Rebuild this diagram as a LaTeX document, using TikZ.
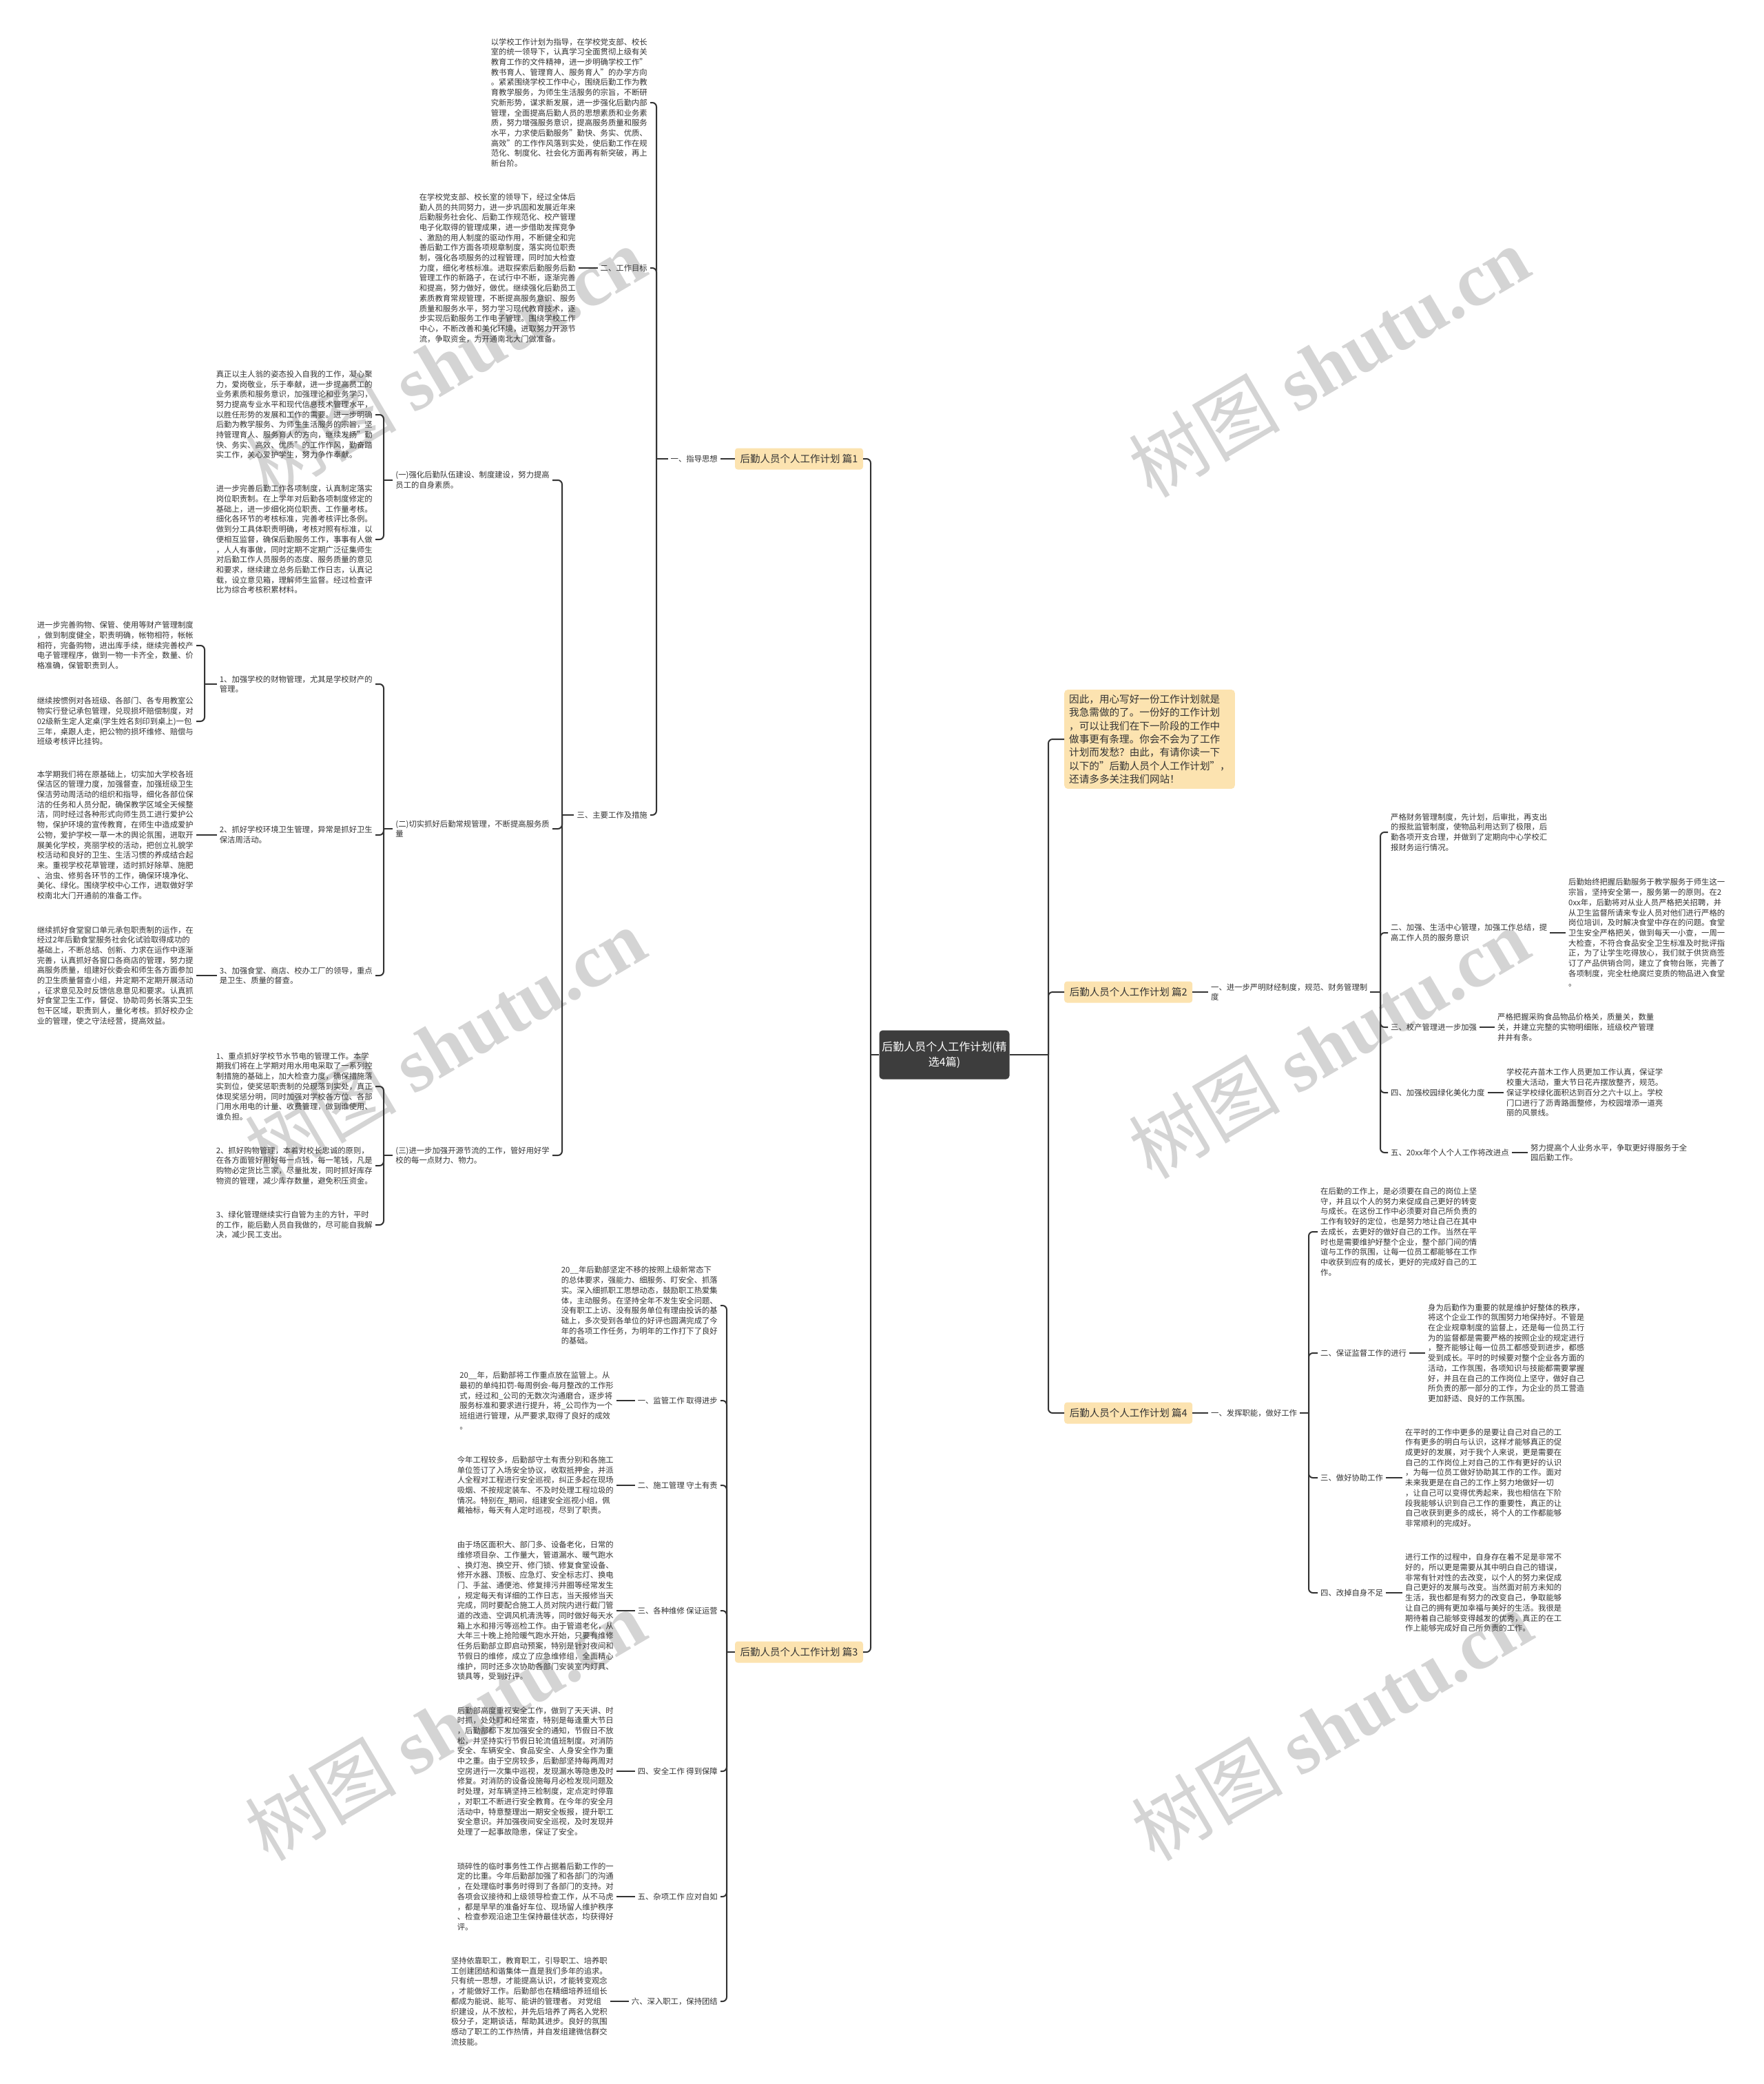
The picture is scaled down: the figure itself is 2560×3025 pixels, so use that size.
\documentclass[tikz,border=0pt]{standalone}
\usepackage{fontspec}
\setmainfont{Noto Sans CJK SC}
\newfontfamily\wmserif{Liberation Serif}

\definecolor{ink}{HTML}{333333}
\definecolor{paper}{HTML}{FCE3B0}
\definecolor{rootfill}{HTML}{3D3D3D}
\definecolor{wmgray}{HTML}{D4D4D4}

\begin{document}
\begin{tikzpicture}[
    x=1pt, y=-1pt,
    txt/.style={
        inner xsep=4pt,
        inner ysep=2pt,
        align=left,
        text=ink,
        font=\fontsize{11.35}{14.7}\selectfont
    },
    ltxt/.style={txt, anchor=east},
    rtxt/.style={txt, anchor=west},
    pian/.style={
        fill=paper,
        rounded corners=4pt,
        minimum width=186pt,
        minimum height=31pt,
        inner sep=0pt,
        text=ink,
        font=\fontsize{14.5}{17}\selectfont
    },
    hub/.style={
        fill=rootfill,
        rounded corners=5pt,
        minimum width=189pt,
        minimum height=71pt,
        align=center,
        text=white,
        font=\fontsize{16}{22}\selectfont
    },
    intro/.style={
        fill=paper,
        rounded corners=5pt,
        anchor=west,
        align=left,
        minimum width=240pt,
        inner xsep=7pt,
        inner ysep=7pt,
        text=ink,
        font=\fontsize{14.6}{19.4}\selectfont
    },
    link/.style={draw=ink, line width=2pt, rounded corners=6pt},
    wmark/.style={
        text=wmgray,
        rotate=30.5,
        inner sep=0pt,
        font=\fontsize{110}{120}\selectfont
    }
]

\useasboundingbox (0,0) rectangle (2560,3025);
\fill[white] (0,0) rectangle (2560,3025);

% --------------------------------------------------
% Watermarks
% --------------------------------------------------

\foreach \wx/\wy in {646/525,1929/525,646/1514,1929/1514,646/2504,1933/2504}
{
    \node[wmark] (wm-\wx-\wy) at (\wx,\wy) {树图 {\wmserif\bfseries shutu.cn}};
}

% --------------------------------------------------
% Root and first level
% --------------------------------------------------

\node[hub] (root) at (1371,1531)
    {后勤人员个人工作计划(精\\选4篇)};

\coordinate (bL) at (1264,1531);
\coordinate (bR) at (1522,1531);

\node[pian] (p1) at (1160,666)
    {后勤人员个人工作计划 篇1};

\node[pian] (p3) at (1160,2398)
    {后勤人员个人工作计划 篇3};

\node[intro] (intro) at (1545,1073)
    {因此，用心写好一份工作计划就是\\
     我急需做的了。一份好的工作计划\\
     ，可以让我们在下一阶段的工作中\\
     做事更有条理。你会不会为了工作\\
     计划而发愁？由此，有请你读一下\\
     以下的"后勤人员个人工作计划"，\\
     还请多多关注我们网站！};

\node[pian, anchor=west] (p2) at (1545,1440)
    {后勤人员个人工作计划 篇2};

\node[pian, anchor=west] (p4) at (1545,2051)
    {后勤人员个人工作计划 篇4};

% --------------------------------------------------
% 篇1
% --------------------------------------------------

\node[ltxt] (zd) at (1046,666) {一、指导思想};
\coordinate (bzd) at (953,666);

\node[ltxt] (ga) at (944,149)
    {以学校工作计划为指导，在学校党支部、校长\\
     室的统一领导下，认真学习全面贯彻上级有关\\
     教育工作的文件精神，进一步明确学校工作"\\
     教书育人、管理育人、服务育人"的办学方向\\
     。紧紧围绕学校工作中心，围绕后勤工作为教\\
     育教学服务，为师生生活服务的宗旨，不断研\\
     究新形势，谋求新发展，进一步强化后勤内部\\
     管理，全面提高后勤人员的思想素质和业务素\\
     质，努力增强服务意识，提高服务质量和服务\\
     水平，力求使后勤服务"勤快、务实、优质、\\
     高效"的工作作风落到实处，使后勤工作在规\\
     范化、制度化、社会化方面再有新突破，再上\\
     新台阶。};

\node[ltxt] (gm) at (944,389) {二、工作目标};

\node[ltxt] (gb) at (840,389)
    {在学校党支部、校长室的领导下，经过全体后\\
     勤人员的共同努力，进一步巩固和发展近年来\\
     后勤服务社会化、后勤工作规范化、校产管理\\
     电子化取得的管理成果，进一步借助发挥竞争\\
     、激励的用人制度的驱动作用，不断健全和完\\
     善后勤工作方面各项规章制度，落实岗位职责\\
     制，强化各项服务的过程管理，同时加大检查\\
     力度，细化考核标准。进取探索后勤服务后勤\\
     管理工作的新路子，在试行中不断，逐渐完善\\
     和提高，努力做好，做优。继续强化后勤员工\\
     素质教育常规管理，不断提高服务意识、服务\\
     质量和服务水平，努力学习现代教育技术，逐\\
     步实现后勤服务工作电子管理。围绕学校工作\\
     中心，不断改善和美化环境，进取努力开源节\\
     流，争取资金，为开通南北大门做准备。};

\node[ltxt] (zy) at (944,1183) {三、主要工作及措施};
\coordinate (bzy) at (816,1183);

\node[ltxt] (y1) at (802,697)
    {(一)强化后勤队伍建设、制度建设，努力提高\\
     员工的自身素质。};
\coordinate (by1) at (557,697);

\node[ltxt] (c1) at (545,602)
    {真正以主人翁的姿态投入自我的工作，凝心聚\\
     力，爱岗敬业，乐于奉献，进一步提高员工的\\
     业务素质和服务意识，加强理论和业务学习，\\
     努力提高专业水平和现代信息技术管理水平，\\
     以胜任形势的发展和工作的需要。进一步明确\\
     后勤为教学服务、为师生生活服务的宗旨，坚\\
     持管理育人、服务育人的方向，继续发扬"勤\\
     快、务实、高效、优质"的工作作风，勤奋踏\\
     实工作，关心爱护学生，努力争作奉献。};

\node[ltxt] (c2) at (545,783)
    {进一步完善后勤工作各项制度，认真制定落实\\
     岗位职责制。在上学年对后勤各项制度修定的\\
     基础上，进一步细化岗位职责、工作量考核。\\
     细化各环节的考核标准，完善考核评比条例。\\
     做到分工具体职责明确，考核对照有标准，以\\
     便相互监督，确保后勤服务工作，事事有人做\\
     ，人人有事做，同时定期不定期广泛征集师生\\
     对后勤工作人员服务的态度、服务质量的意见\\
     和要求，继续建立总务后勤工作日志，认真记\\
     载，设立意见箱，理解师生监督。经过检查评\\
     比为综合考核积累材料。};

\node[ltxt] (y2) at (802,1203)
    {(二)切实抓好后勤常规管理，不断提高服务质\\
     量};
\coordinate (by2) at (557,1203);

\node[ltxt] (l1) at (545,993)
    {1、加强学校的财物管理，尤其是学校财产的\\
     管理。};
\coordinate (bl1) at (297,993);

\node[ltxt] (d1) at (285,937)
    {进一步完善购物、保管、使用等财产管理制度\\
     ，做到制度健全，职责明确，帐物相符，帐帐\\
     相符，完备购物，进出库手续，继续完善校产\\
     电子管理程序，做到一物一卡齐全，数量、价\\
     格准确，保管职责到人。};

\node[ltxt] (d2) at (285,1047)
    {继续按惯例对各班级、各部门、各专用教室公\\
     物实行登记承包管理，兑现损坏赔偿制度，对\\
     02级新生定人定桌(学生姓名刻印到桌上)一包\\
     三年，桌跟人走，把公物的损坏维修、赔偿与\\
     班级考核评比挂钩。};

\node[ltxt] (l2) at (545,1212)
    {2、抓好学校环境卫生管理，异常是抓好卫生\\
     保洁周活动。};

\node[ltxt] (e1) at (285,1212)
    {本学期我们将在原基础上，切实加大学校各班\\
     保洁区的管理力度，加强督查，加强班级卫生\\
     保洁劳动周活动的组织和指导，细化各部位保\\
     洁的任务和人员分配，确保教学区域全天候整\\
     洁，同时经过各种形式向师生员工进行爱护公\\
     物，保护环境的宣传教育，在师生中造成爱护\\
     公物，爱护学校一草一木的舆论氛围，进取开\\
     展美化学校，亮丽学校的活动，把创立礼貌学\\
     校活动和良好的卫生、生活习惯的养成结合起\\
     来。重视学校花草管理，适时抓好除草、施肥\\
     、治虫、修剪各环节的工作，确保环境净化、\\
     美化、绿化。围绕学校中心工作，进取做好学\\
     校南北大门开通前的准备工作。};

\node[ltxt] (l3) at (545,1416)
    {3、加强食堂、商店、校办工厂的领导，重点\\
     是卫生、质量的督查。};

\node[ltxt] (f1x) at (285,1416)
    {继续抓好食堂窗口单元承包职责制的运作，在\\
     经过2年后勤食堂服务社会化试验取得成功的\\
     基础上，不断总结、创新、力求在运作中逐渐\\
     完善，认真抓好各窗口各商店的管理，努力提\\
     高服务质量，组建好伙委会和师生各方面参加\\
     的卫生质量督查小组，并定期不定期开展活动\\
     ，征求意见及时反馈信息意见和要求。认真抓\\
     好食堂卫生工作，督促、协助司务长落实卫生\\
     包干区域，职责到人，量化考核。抓好校办企\\
     业的管理，使之守法经营，提高效益。};

\node[ltxt] (y3) at (802,1677)
    {(三)进一步加强开源节流的工作，管好用好学\\
     校的每一点财力、物力。};
\coordinate (by3) at (557,1677);

\node[ltxt] (g1) at (545,1577)
    {1、重点抓好学校节水节电的管理工作。本学\\
     期我们将在上学期对用水用电采取了一系列控\\
     制措施的基础上，加大检查力度，确保措施落\\
     实到位，使奖惩职责制的兑现落到实处，真正\\
     体现奖惩分明，同时加强对学校各方位、各部\\
     门用水用电的计量、收费管理，做到谁使用、\\
     谁负担。};

\node[ltxt] (g2) at (545,1692)
    {2、抓好购物管理，本着对校长忠诚的原则，\\
     在各方面管好用好每一点钱，每一笔钱，凡是\\
     购物必定货比三家，尽量批发，同时抓好库存\\
     物资的管理，减少库存数量，避免积压资金。};

\node[ltxt] (g3) at (545,1778)
    {3、绿化管理继续实行自管为主的方针，平时\\
     的工作，能后勤人员自我做的，尽可能自我解\\
     决，减少民工支出。};

% --------------------------------------------------
% 篇3
% --------------------------------------------------

\coordinate (bp3) at (1055,2398);

\node[ltxt] (h0) at (1046,1895)
    {20\_\_年后勤部坚定不移的按照上级新常态下\\
     的总体要求，强能力、细服务、盯安全、抓落\\
     实。深入细抓职工思想动态，鼓励职工热爱集\\
     体，主动服务。在坚持全年不发生安全问题、\\
     没有职工上访、没有服务单位有理由投诉的基\\
     础上，多次受到各单位的好评也圆满完成了今\\
     年的各项工作任务，为明年的工作打下了良好\\
     的基础。};

\node[ltxt] (s1) at (1046,2033) {一、监管工作 取得进步};
\node[ltxt] (h1) at (895,2033)
    {20\_\_年，后勤部将工作重点放在监管上。从\\
     最初的单纯扣罚-每周例会-每月整改的工作形\\
     式，经过和\_公司的无数次沟通磨合，逐步将\\
     服务标准和要求进行提升，将\_公司作为一个\\
     班组进行管理，从严要求,取得了良好的成效\\
     。};

\node[ltxt] (s2) at (1046,2156) {二、施工管理 守土有责};
\node[ltxt] (h2) at (895,2156)
    {今年工程较多，后勤部守土有责分别和各施工\\
     单位签订了入场安全协议，收取抵押金，并派\\
     人全程对工程进行安全巡视，纠正多起在现场\\
     吸烟、不按规定装车、不及时处理工程垃圾的\\
     情况。特别在\_期间，组建安全巡视小组，佩\\
     戴袖标，每天有人定时巡视，尽到了职责。};

\node[ltxt] (s3) at (1046,2338) {三、各种维修 保证运营};
\node[ltxt] (h3) at (895,2338)
    {由于场区面积大、部门多、设备老化，日常的\\
     维修项目杂、工作量大，管道漏水、暖气跑水\\
     、换灯泡、换空开、修门锁、修复食堂设备、\\
     修开水器、顶板、应急灯、安全标志灯、换电\\
     门、手盆、通便池、修复排污井圈等经常发生\\
     ，规定每天有详细的工作日志，当天报修当天\\
     完成，同时要配合施工人员对院内进行截门管\\
     道的改造、空调风机清洗等，同时做好每天水\\
     箱上水和排污等巡检工作。由于管道老化，从\\
     大年三十晚上抢险暖气跑水开始，只要有维修\\
     任务后勤部立即启动预案，特别是针对夜间和\\
     节假日的维修，成立了应急维修组，全面精心\\
     维护，同时还多次协助各部门安装室内灯具、\\
     锁具等，受到好评。};

\node[ltxt] (s4) at (1046,2571) {四、安全工作 得到保障};
\node[ltxt] (h4) at (895,2571)
    {后勤部高度重视安全工作，做到了天天讲、时\\
     时抓，处处盯和经常查，特别是每逢重大节日\\
     ，后勤部都下发加强安全的通知，节假日不放\\
     松，并坚持实行节假日轮流值班制度。对消防\\
     安全、车辆安全、食品安全、人身安全作为重\\
     中之重。由于空房较多，后勤部坚持每两周对\\
     空房进行一次集中巡视，发现漏水等隐患及时\\
     修复。对消防的设备设施每月必检发现问题及\\
     时处理，对车辆坚持三检制度，定点定时停靠\\
     ，对职工不断进行安全教育。在今年的安全月\\
     活动中，特意整理出一期安全板报，提升职工\\
     安全意识。并加强夜间安全巡视，及时发现并\\
     处理了一起事故隐患，保证了安全。};

\node[ltxt] (s5) at (1046,2753) {五、杂项工作 应对自如};
\node[ltxt] (h5) at (895,2753)
    {琐碎性的临时事务性工作占据着后勤工作的一\\
     定的比重。今年后勤部加强了和各部门的沟通\\
     ，在处理临时事务时得到了各部门的支持。对\\
     各项会议接待和上级领导检查工作，从不马虎\\
     ，都是早早的准备好车位、现场留人维护秩序\\
     、检查参观沿途卫生保持最佳状态，均获得好\\
     评。};

\node[ltxt] (s6) at (1046,2905) {六、深入职工，保持团结};
\node[ltxt] (h6) at (886,2905)
    {坚持依靠职工，教育职工，引导职工、培养职\\
     工创建团结和谐集体一直是我们多年的追求。\\
     只有统一思想，才能提高认识，才能转变观念\\
     ，才能做好工作。后勤部也在精细培养班组长\\
     都成为能说、能写、能讲的管理者。 对党组\\
     织建设，从不放松，并先后培养了两名入党积\\
     极分子，定期谈话，帮助其进步。良好的氛围\\
     感动了职工的工作热情，并自发组建微信群交\\
     流技能。};

% --------------------------------------------------
% 篇2
% --------------------------------------------------

\node[rtxt] (r1) at (1754,1440)
    {一、进一步严明财经制度，规范、财务管理制\\
     度};
\coordinate (br1) at (2004,1440);

\node[rtxt] (ra) at (2015,1208)
    {严格财务管理制度，先计划，后审批，再支出\\
     的报批监管制度，使物品利用达到了极限，后\\
     勤各项开支合理，并做到了定期向中心学校汇\\
     报财务运行情况。};

\node[rtxt] (rb) at (2015,1354)
    {二、加强、生活中心管理，加强工作总结，提\\
     高工作人员的服务意识};
\node[rtxt] (rbt) at (2273,1354)
    {后勤始终把握后勤服务于教学服务于师生这一\\
     宗旨，坚持安全第一，服务第一的原则。在2\\
     0xx年，后勤将对从业人员严格把关招聘，并\\
     从卫生监督所请来专业人员对他们进行严格的\\
     岗位培训，及时解决食堂中存在的问题。食堂\\
     卫生安全严格把关，做到每天一小查，一周一\\
     大检查，不符合食品安全卫生标准及时批评指\\
     正，为了让学生吃得放心，我们就于供货商签\\
     订了产品供销合同，建立了食物台账，完善了\\
     各项制度，完全杜绝腐烂变质的物品进入食堂\\
     。};

\node[rtxt] (rc) at (2015,1491) {三、校产管理进一步加强};
\node[rtxt] (rct) at (2170,1491)
    {严格把握采购食品物品价格关，质量关，数量\\
     关，并建立完整的实物明细账，班级校产管理\\
     井井有条。};

\node[rtxt] (rd) at (2015,1586) {四、加强校园绿化美化力度};
\node[rtxt] (rdt) at (2183,1586)
    {学校花卉苗木工作人员更加工作认真，保证学\\
     校重大活动，重大节日花卉摆放整齐，规范。\\
     保证学校绿化面积达到百分之六十以上。学校\\
     门口进行了沥青路面整修，为校园增添一道亮\\
     丽的风景线。};

\node[rtxt] (re) at (2015,1673) {五、20xx年个人个人工作将改进点};
\node[rtxt] (ret) at (2218,1673)
    {努力提高个人业务水平，争取更好得服务于全\\
     园后勤工作。};

% --------------------------------------------------
% 篇4
% --------------------------------------------------

\node[rtxt] (w1) at (1754,2051) {一、发挥职能，做好工作};
\coordinate (bw1) at (1900,2051);

\node[rtxt] (wa) at (1913,1788)
    {在后勤的工作上，是必须要在自己的岗位上坚\\
     守，并且以个人的努力来促成自己更好的转变\\
     与成长。在这份工作中必须要对自己所负责的\\
     工作有较好的定位，也是努力地让自己在其中\\
     去成长，去更好的做好自己的工作。当然在平\\
     时也是需要维护好整个企业，整个部门间的情\\
     谊与工作的氛围，让每一位员工都能够在工作\\
     中收获到应有的成长，更好的完成好自己的工\\
     作。};

\node[rtxt] (wb) at (1913,1964) {二、保证监督工作的进行};
\node[rtxt] (wbt) at (2069,1964)
    {身为后勤作为重要的就是维护好整体的秩序，\\
     将这个企业工作的氛围努力地保持好。不管是\\
     在企业规章制度的监督上，还是每一位员工行\\
     为的监督都是需要严格的按照企业的规定进行\\
     ，整齐能够让每一位员工都感受到进步，都感\\
     受到成长。平时的时候要对整个企业各方面的\\
     活动，工作氛围，各项知识与技能都需要掌握\\
     好，并且在自己的工作岗位上坚守，做好自己\\
     所负责的那一部分的工作，为企业的员工营造\\
     更加舒适、良好的工作氛围。};

\node[rtxt] (wc) at (1913,2145) {三、做好协助工作};
\node[rtxt] (wct) at (2036,2145)
    {在平时的工作中更多的是要让自己对自己的工\\
     作有更多的明白与认识，这样才能够真正的促\\
     成更好的发展，对于我个人来说，更是需要在\\
     自己的工作岗位上对自己的工作有更好的认识\\
     ，为每一位员工做好协助其工作的工作。面对\\
     未来我更是在自己的工作上努力地做好一切\\
     ，让自己可以变得优秀起来，我也相信在下阶\\
     段我能够认识到自己工作的重要性，真正的让\\
     自己收获到更多的成长，将个人的工作都能够\\
     非常顺利的完成好。};

\node[rtxt] (wd) at (1913,2312) {四、改掉自身不足};
\node[rtxt] (wdt) at (2036,2312)
    {进行工作的过程中，自身存在着不足是非常不\\
     好的，所以更是需要从其中明白自己的错误，\\
     非常有针对性的去改变，以个人的努力来促成\\
     自己更好的发展与改变。当然面对前方未知的\\
     生活，我也都是有努力的改变自己，争取能够\\
     让自己的拥有更加幸福与美好的生活。我很是\\
     期待着自己能够变得越发的优秀，真正的在工\\
     作上能够完成好自己所负责的工作。};

% --------------------------------------------------
% Connectors
% --------------------------------------------------

\draw[link] (root.west) -- (bL);
\foreach \nd in {p1,p3}
    \draw[link] (bL) |- (\nd.east);

\draw[link] (root.east) -- (bR);
\foreach \nd in {intro,p2,p4}
    \draw[link] (bR) |- (\nd.west);

% 篇1
\draw[link] (p1.west) -- (zd.east);
\draw[link] (zd.west) -- (bzd);
\foreach \nd in {ga,gm,zy}
    \draw[link] (bzd) |- (\nd.east);
\draw[link] (gm.west) -- (gb.east);

\draw[link] (zy.west) -- (bzy);
\foreach \nd in {y1,y2,y3}
    \draw[link] (bzy) |- (\nd.east);

\draw[link] (y1.west) -- (by1);
\foreach \nd in {c1,c2}
    \draw[link] (by1) |- (\nd.east);

\draw[link] (y2.west) -- (by2);
\foreach \nd in {l1,l2,l3}
    \draw[link] (by2) |- (\nd.east);
\draw[link] (l1.west) -- (bl1);
\foreach \nd in {d1,d2}
    \draw[link] (bl1) |- (\nd.east);
\draw[link] (l2.west) -- (e1.east);
\draw[link] (l3.west) -- (f1x.east);

\draw[link] (y3.west) -- (by3);
\foreach \nd in {g1,g2,g3}
    \draw[link] (by3) |- (\nd.east);

% 篇3
\draw[link] (p3.west) -- (bp3);
\foreach \nd in {h0,s1,s2,s3,s4,s5,s6}
    \draw[link] (bp3) |- (\nd.east);
\foreach \a/\b in {s1/h1,s2/h2,s3/h3,s4/h4,s5/h5,s6/h6}
    \draw[link] (\a.west) -- (\b.east);

% 篇2
\draw[link] (p2.east) -- (r1.west);
\draw[link] (r1.east) -- (br1);
\foreach \nd in {ra,rb,rc,rd,re}
    \draw[link] (br1) |- (\nd.west);
\foreach \a/\b in {rb/rbt,rc/rct,rd/rdt,re/ret}
    \draw[link] (\a.east) -- (\b.west);

% 篇4
\draw[link] (p4.east) -- (w1.west);
\draw[link] (w1.east) -- (bw1);
\foreach \nd in {wa,wb,wc,wd}
    \draw[link] (bw1) |- (\nd.west);
\foreach \a/\b in {wb/wbt,wc/wct,wd/wdt}
    \draw[link] (\a.east) -- (\b.west);

\end{tikzpicture}
\end{document}
